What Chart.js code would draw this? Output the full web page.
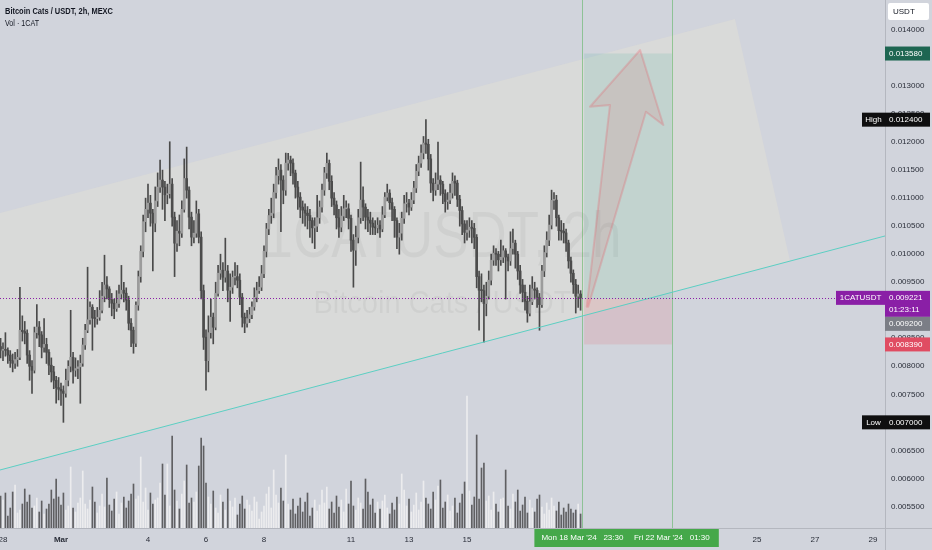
<!DOCTYPE html>
<html>
<head>
<meta charset="utf-8">
<script src="https://cdn.jsdelivr.net/npm/chart.js@4.4.1/dist/chart.umd.min.js"></script>
<style>
  html, body { margin: 0; padding: 0; background: #d1d4dc; }
  #wrap { width: 932px; height: 550px; }
</style>
</head>
<body>
<div id="wrap"><canvas id="chart" width="932" height="550"></canvas></div>
<script>
// 2h candles of 1CATUSDT, prices in millionths of USDT (9221 = 0.009221)
const opens = [
  8350, 8286, 8290, 8286, 8200, 8100, 8054, 8120, 8161, 8643,
  8620, 8590, 8200, 8000, 7929, 8600, 8700, 8560, 8340, 8390,
  8250, 8020, 7900, 7750, 7620, 7590, 7560, 7518, 7750, 8000,
  8161, 7929, 7960, 7990, 8054, 8380, 8643, 8830, 9054, 8860,
  8850, 8875, 9000, 9250, 9450, 9380, 9190, 9125, 9030, 9120,
  9290, 9357, 9304, 9180, 8768, 8643, 8411, 9090, 9600, 10050,
  10580, 10800, 10911, 10732, 10554, 10950, 11197, 11322, 11197, 11060,
  11080, 11250, 10661, 10197, 10410, 10375, 10800, 11350, 11143, 10661,
  10304, 10375, 10720, 10304, 9350, 8518, 8100, 8600, 8875, 8697,
  9300, 9661, 9714, 9589, 9700, 9357, 9411, 9589, 9600, 9536,
  9232, 8875, 8768, 8850, 8920, 9060, 9230, 9350, 9411, 9650,
  10050, 10450, 10690, 10732, 11100, 11400, 11500, 11322, 11143, 11625,
  11679, 11625, 11447, 11197, 11018, 10840, 10786, 10732, 10690, 10600,
  10470, 10500, 10650, 10840, 11143, 11450, 11620, 11300, 11000, 10880,
  10650, 10482, 10680, 10810, 10810, 10640, 10250, 10072, 10300, 10650,
  10965, 10840, 10661, 10607, 10554, 10482, 10470, 10518, 10450, 10700,
  11018, 11090, 10920, 10800, 10600, 10304, 10375, 10640, 10900, 10911,
  10840, 10965, 11180, 11480, 11625, 11804, 11982, 11960, 11700, 11268,
  11143, 11250, 11322, 11250, 11080, 10940, 10965, 11090, 11300, 11268,
  10980, 10780, 10540, 10390, 10429, 10482, 10460, 10300, 9600, 9357,
  9350, 9120, 9250, 9536, 9893, 10018, 10000, 9900, 9946, 10060,
  9950, 9880, 10100, 10197, 10000, 9700, 9450, 9320, 9160, 8947,
  9150, 9380, 9357, 9232, 9100, 9700, 10030, 10250, 10520, 10960,
  10965, 10650, 10420, 10410, 10380, 10200, 9880, 9660, 9460, 9250, 9290
];
const highs = [
  8500, 8420, 8600, 8330, 8280, 8220, 8250, 8300, 9411, 8900,
  8800, 8650, 8280, 8100, 8700, 9100, 8800, 8620, 8850, 8500,
  8300, 8150, 8000, 7820, 7800, 7700, 7650, 7950, 8100, 8999,
  8250, 8150, 8100, 8200, 8500, 8750, 9768, 9150, 9100, 9000,
  9050, 9350, 9500, 9982, 9600, 9420, 9300, 9200, 9350, 9450,
  9800, 9500, 9400, 9250, 8850, 8700, 9150, 9700, 10150, 10700,
  11000, 11250, 11050, 10800, 11200, 11450, 11679, 11500, 11300, 11250,
  12006, 11350, 10750, 10600, 10700, 10950, 11700, 11911, 11200, 10750,
  10600, 10950, 10800, 10400, 9450, 8650, 8900, 9200, 8950, 9500,
  9800, 10000, 9850, 10286, 9800, 9650, 9700, 9850, 9800, 9650,
  9300, 8950, 9000, 9050, 9150, 9400, 9500, 9600, 9800, 10150,
  10550, 10800, 11000, 11250, 11550, 11700, 11600, 11400, 11804, 11800,
  11750, 11700, 11500, 11300, 11100, 10950, 10900, 10850, 10800, 10650,
  10650, 11050, 10950, 11250, 11550, 11804, 11680, 11400, 11100, 10950,
  10800, 10850, 11050, 10950, 10900, 10700, 10350, 10500, 10800, 11643,
  11200, 10900, 10800, 10750, 10650, 10600, 10650, 10600, 10850, 11100,
  11250, 11150, 11000, 10850, 10650, 10550, 10750, 11050, 11100, 10980,
  11100, 11300, 11600, 11750, 11950, 12100, 12400, 12050, 11780, 11350,
  11450, 12000, 11400, 11300, 11150, 11100, 11250, 11450, 11400, 11320,
  11050, 10850, 10600, 10600, 10650, 10600, 10550, 10350, 9700, 9650,
  9450, 9500, 9700, 10000, 10150, 10100, 10050, 10250, 10150, 10100,
  10000, 10400, 10450, 10250, 10050, 9800, 9550, 9450, 9250, 9450,
  9600, 9500, 9400, 9300, 9800, 10150, 10400, 10700, 11143, 11100,
  11050, 10700, 10600, 10550, 10450, 10250, 9950, 9720, 9550, 9450, 9350
];
const lows = [
  8150, 8100, 8180, 8050, 7980, 7900, 7960, 8000, 8120, 8450,
  8400, 8050, 7750, 7518, 7880, 8500, 8350, 8150, 8250, 8050,
  7850, 7720, 7600, 7340, 7400, 7300, 7000, 7450, 7650, 7900,
  7700, 7820, 7780, 7340, 8000, 8300, 8600, 8750, 8286, 8700,
  8750, 8820, 8950, 9150, 9200, 9050, 8900, 8850, 8980, 9050,
  9200, 9150, 9000, 8650, 8350, 8233, 8350, 9000, 9500, 9950,
  10400, 10650, 10500, 9700, 10400, 10850, 11100, 10800, 10600, 10900,
  11000, 10500, 9600, 10050, 10150, 10300, 10750, 11000, 10450, 10150,
  10200, 10300, 10200, 9200, 8300, 7572, 7900, 8500, 8400, 8650,
  9250, 9550, 9350, 9500, 9150, 8800, 9300, 9450, 9400, 9100,
  8700, 8600, 8700, 8780, 8850, 9000, 9150, 9300, 9350, 9580,
  9950, 10350, 10550, 10650, 11000, 11250, 10400, 10900, 11050, 11500,
  11400, 11250, 11000, 10800, 10650, 10550, 10500, 10450, 10300, 10200,
  10100, 10400, 10550, 10750, 11050, 11350, 11150, 10850, 10700, 10450,
  10300, 10400, 10600, 10650, 10450, 10050, 9411, 9800, 10200, 10550,
  10600, 10450, 10400, 10350, 10350, 10350, 10380, 10300, 10400, 10650,
  10950, 10800, 10600, 10300, 10100, 10000, 10250, 10550, 10750, 10700,
  10780, 10900, 11100, 11400, 11550, 11700, 11800, 11500, 11100, 10950,
  11050, 11150, 11050, 10900, 10750, 10800, 10900, 11000, 11050, 10850,
  10500, 10350, 10200, 10250, 10300, 10200, 10100, 9400, 8643, 9150,
  8429, 8900, 9200, 9450, 9800, 9800, 9700, 9800, 9850, 9200,
  9700, 9800, 10000, 9750, 9550, 9300, 9150, 9000, 8786, 8900,
  9100, 9200, 9050, 8643, 9050, 9600, 9950, 10150, 10450, 10800,
  10500, 10250, 10250, 10200, 10050, 9750, 9500, 9300, 8950, 9050, 9000
];
const closes = [
  8286, 8290, 8286, 8200, 8100, 8054, 8120, 8161, 8643, 8620,
  8590, 8200, 8000, 7929, 8600, 8700, 8560, 8340, 8390, 8250,
  8020, 7900, 7750, 7620, 7590, 7560, 7518, 7750, 8000, 8161,
  7929, 7960, 7990, 8054, 8380, 8643, 8830, 9054, 8860, 8850,
  8875, 9000, 9250, 9450, 9380, 9190, 9125, 9030, 9120, 9290,
  9357, 9304, 9180, 8768, 8643, 8411, 9090, 9600, 10050, 10580,
  10800, 10911, 10732, 10554, 10950, 11197, 11322, 11197, 11060, 11080,
  11250, 10661, 10197, 10410, 10375, 10800, 11350, 11143, 10661, 10304,
  10375, 10720, 10304, 9350, 8518, 8100, 8600, 8875, 8697, 9300,
  9661, 9714, 9589, 9700, 9357, 9411, 9589, 9600, 9536, 9232,
  8875, 8768, 8850, 8920, 9060, 9230, 9350, 9411, 9650, 10050,
  10450, 10690, 10732, 11100, 11400, 11500, 11322, 11143, 11625, 11679,
  11625, 11447, 11197, 11018, 10840, 10786, 10732, 10690, 10600, 10470,
  10500, 10650, 10840, 11143, 11450, 11620, 11300, 11000, 10880, 10650,
  10482, 10680, 10810, 10810, 10640, 10250, 10072, 10300, 10650, 10965,
  10840, 10661, 10607, 10554, 10482, 10470, 10518, 10450, 10700, 11018,
  11090, 10920, 10800, 10600, 10304, 10375, 10640, 10900, 10911, 10840,
  10965, 11180, 11480, 11625, 11804, 11982, 11960, 11700, 11268, 11143,
  11250, 11322, 11250, 11080, 10940, 10965, 11090, 11300, 11268, 10980,
  10780, 10540, 10390, 10429, 10482, 10460, 10300, 9600, 9357, 9350,
  9120, 9250, 9536, 9893, 10018, 10000, 9900, 9946, 10060, 9950,
  9880, 10100, 10197, 10000, 9700, 9450, 9320, 9160, 8947, 9150,
  9380, 9357, 9232, 9100, 9700, 10030, 10250, 10520, 10960, 10965,
  10650, 10420, 10410, 10380, 10200, 9880, 9660, 9460, 9250, 9290, 9221
];
const volumes = [
  3.2, 2.8, 3.5, 1.2, 2.0, 3.6, 4.3, 1.5, 1.8, 2.4,
  3.9, 2.6, 3.3, 2.0, 2.2, 3.0, 1.6, 2.7, 1.4, 1.9,
  2.4, 3.8, 2.9, 4.9, 3.1, 2.3, 3.5, 1.8, 2.2, 6.1,
  2.0, 1.6, 2.5, 3.0, 5.7, 2.4, 1.9, 2.8, 4.1, 2.6,
  1.5, 2.2, 3.4, 2.1, 5.0, 2.3, 1.7, 2.9, 3.6, 1.4,
  2.5, 3.1, 2.0, 2.7, 3.4, 4.4, 2.9, 3.2, 7.1, 2.6,
  4.0, 1.8, 3.5, 2.4, 2.8, 3.0, 4.5, 6.4, 3.3, 6.4,
  2.2, 9.2, 3.8, 2.7, 1.9, 3.4, 4.7, 6.3, 2.5, 3.0,
  2.6, 3.6, 6.2, 9.0, 8.2, 4.5, 3.1, 2.4, 3.7, 2.0,
  1.5, 3.3, 2.6, 1.8, 3.9, 2.7, 2.1, 3.0, 1.3, 2.4,
  3.2, 1.9, 2.8, 2.3, 1.7, 3.1, 2.6, 0.9, 1.6, 2.2,
  3.4, 4.1, 2.0, 5.8, 3.3, 2.5, 4.0, 2.7, 7.3, 2.4,
  1.8, 2.9, 1.4, 2.2, 3.0, 1.6, 2.6, 3.5, 1.2, 2.0,
  2.8, 1.7, 2.3, 3.8, 2.5, 4.1, 1.9, 2.6, 1.5, 3.2,
  2.1, 2.8, 1.6, 3.9, 2.4, 4.7, 2.2, 1.8, 3.0, 2.5,
  1.9, 4.9, 3.6, 2.3, 2.9, 1.5, 2.6, 1.9, 2.7, 3.3,
  2.0, 1.4, 2.5, 1.8, 3.1, 2.4, 5.4, 3.8, 2.2, 2.9,
  1.6, 2.3, 3.5, 1.8, 2.6, 4.7, 3.0, 2.4, 1.9, 3.6,
  2.8, 4.2, 4.8, 2.0, 2.6, 3.3, 1.7, 2.2, 3.0, 1.5,
  2.5, 3.4, 4.6, 13.2, 3.7, 2.3, 3.1, 9.3, 2.9, 6.0,
  6.5, 2.7, 3.2, 1.8, 3.6, 2.4, 1.6, 2.9, 3.0, 5.8,
  2.2, 1.9, 3.4, 2.6, 3.8, 1.7, 2.3, 3.1, 1.5, 2.8,
  2.0, 1.6, 2.9, 3.3, 2.1, 1.4, 2.5, 1.8, 3.0, 2.2,
  1.7, 2.6, 1.3, 2.0, 1.6, 2.4, 1.9, 1.5, 1.8, 2.4, 1.4
];

// time axis: days counted from 29 Feb 00:00 (so 1 = 1 Mar)
const firstCandle = -1 - 1 / 12;   // 27 Feb 22:00
const candleStep = 2 / 24;          // 2h
const viewStart = -1.1034;
const viewEnd = 29.4138;

const dateTicks = [-1, 1, 4, 6, 8, 11, 13, 15, 25, 27, 29];
const dateLabels = ['28', 'Mar', '4', '6', '8', '11', '13', '15', '25', '27', '29'];
const priceTicks = [14000, 13500, 13000, 12500, 12000, 11500, 11000, 10500, 10000, 9500, 9000, 8500, 8000, 7500, 7000, 6500, 6000, 5500];

// drawings, in [day, price] coordinates
const channel = [[-1.103, 10735], [24.24, 14196], [26.14, 9879], [-1.103, 6150]];
const trendLine = [[-1.103, 6150], [29.414, 10325]];
const arrow = [[19.13, 9064], [19.93, 12662], [19.24, 12631], [20.97, 13643], [21.77, 12305], [21.17, 12542], [19.18, 9064]];
const rangeDates = [18.979, 22.0625];
const rangeText = ["Mon 18 Mar '24   23:30", "Fri 22 Mar '24   01:30"];
const position = { start: 19.04, end: 22.0625, entry: 9200, target: 13580, stop: 8390 };
const lastPrice = 9221;
const dayHigh = 12400;
const dayLow = 7000;

const FONT = '"Liberation Sans", Arial, sans-serif';

const times = closes.map((c, i) => firstCandle + i * candleStep);
const isUp = closes.map((c, i) => c >= opens[i]);

function fitText(ctx, text, x, y, font, width, align) {
  ctx.font = font;
  const s = width / ctx.measureText(text).width;
  ctx.save();
  ctx.translate(x, y);
  ctx.scale(s, 1);
  ctx.textAlign = align;
  ctx.fillText(text, 0, 0);
  ctx.restore();
}

function path(ctx, pts, px, py) {
  ctx.beginPath();
  pts.forEach((p, i) => i ? ctx.lineTo(px(p[0]), py(p[1])) : ctx.moveTo(px(p[0]), py(p[1])));
}

const tvPlugin = {
  id: 'tv',
  beforeDraw(chart) {
    const ctx = chart.ctx;
    ctx.save();
    ctx.fillStyle = '#d1d4dc';
    ctx.fillRect(0, 0, chart.width, chart.height);
    ctx.restore();
  },
  beforeDatasetsDraw(chart) {
    const { ctx, chartArea: a, scales: { x, y } } = chart;
    const px = v => x.getPixelForValue(v), py = v => y.getPixelForValue(v);
    ctx.save();
    ctx.beginPath(); ctx.rect(a.left, a.top, a.width, a.height); ctx.clip();

    path(ctx, channel, px, py);
    ctx.closePath();
    ctx.fillStyle = 'rgba(226,223,214,0.5)';
    ctx.fill();

    // watermark
    ctx.fillStyle = 'rgba(0,0,0,0.045)';
    ctx.textBaseline = 'alphabetic';
    const cx = (a.left + a.right) / 2;
    fitText(ctx, '1CATUSDT, 2h', cx, 257, '65px ' + FONT, 358, 'center');
    fitText(ctx, 'Bitcoin Cats / USDT', cx, 313, '32px ' + FONT, 258, 'center');

    // long position
    const x0 = px(position.start), x1 = px(position.end);
    ctx.fillStyle = 'rgba(8,153,129,0.11)';
    ctx.fillRect(x0, py(position.target), x1 - x0, py(position.entry) - py(position.target));
    ctx.fillStyle = 'rgba(242,54,69,0.12)';
    ctx.fillRect(x0, py(position.entry), x1 - x0, py(position.stop) - py(position.entry));

    ctx.strokeStyle = 'rgba(76,175,80,0.5)';
    ctx.lineWidth = 1;
    rangeDates.forEach(d => {
      const xx = Math.round(px(d)) + 0.5;
      ctx.beginPath(); ctx.moveTo(xx, a.top); ctx.lineTo(xx, a.bottom); ctx.stroke();
    });
    ctx.restore();
  },
  afterDatasetsDraw(chart) {
    const { ctx, chartArea: a, scales: { x, y } } = chart;
    const px = v => x.getPixelForValue(v), py = v => y.getPixelForValue(v);
    ctx.save();
    ctx.beginPath(); ctx.rect(a.left, a.top, a.width, a.height); ctx.clip();

    path(ctx, trendLine, px, py);
    ctx.strokeStyle = '#5ccfc3';
    ctx.lineWidth = 1;
    ctx.stroke();

    path(ctx, arrow, px, py);
    ctx.closePath();
    ctx.fillStyle = 'rgba(242,54,69,0.1)';
    ctx.fill();
    ctx.strokeStyle = 'rgba(242,54,69,0.2)';
    ctx.lineWidth = 2;
    ctx.lineJoin = 'round';
    ctx.stroke();

    const ly = Math.round(py(lastPrice)) + 0.5;
    ctx.setLineDash([1, 2]);
    ctx.strokeStyle = '#8a1fa6';
    ctx.lineWidth = 1;
    ctx.beginPath(); ctx.moveTo(a.left, ly); ctx.lineTo(a.right, ly); ctx.stroke();
    ctx.restore();
  },
  afterDraw(chart) {
    const { ctx, chartArea: a, scales: { x, y } } = chart;
    const px = v => x.getPixelForValue(v), py = v => y.getPixelForValue(v);
    ctx.save();

    // pane borders
    ctx.strokeStyle = '#b4b7bf';
    ctx.lineWidth = 1;
    ctx.beginPath();
    ctx.moveTo(a.right + 0.5, 0); ctx.lineTo(a.right + 0.5, chart.height);
    ctx.moveTo(0, a.bottom + 0.5); ctx.lineTo(chart.width, a.bottom + 0.5);
    ctx.stroke();

    // price scale
    ctx.textBaseline = 'middle';
    ctx.textAlign = 'left';
    ctx.font = '8px ' + FONT;
    ctx.fillStyle = '#2a2e39';
    priceTicks.forEach(p => ctx.fillText((p / 1e6).toFixed(6), a.right + 6, py(p)));

    // time scale
    ctx.textAlign = 'center';
    dateTicks.forEach((d, i) => {
      ctx.font = (dateLabels[i] === 'Mar' ? 'bold ' : '') + '8px ' + FONT;
      ctx.fillText(dateLabels[i], px(d), a.bottom + 12);
    });

    // date range badge
    const bx0 = px(rangeDates[0]) - 48, bx1 = px(rangeDates[1]) + 47;
    ctx.fillStyle = '#45a84a';
    ctx.fillRect(bx0, a.bottom + 1, bx1 - bx0, 18);
    ctx.fillStyle = '#ffffff';
    ctx.font = '8px ' + FONT;
    rangeDates.forEach((d, i) => ctx.fillText(rangeText[i], px(d), a.bottom + 10));

    // price badges
    const W = chart.width - a.right - 2;
    const badge = (yc, bg, text, h) => {
      ctx.fillStyle = bg;
      ctx.fillRect(a.right, yc - 7, W, h || 14);
      ctx.fillStyle = '#ffffff';
      ctx.textAlign = 'left';
      ctx.fillText(text, a.right + 4, yc);
    };
    const tag = (yc, bg, text, w) => {
      ctx.fillStyle = bg;
      ctx.fillRect(a.right - w, yc - 7, w, 14);
      ctx.fillStyle = '#ffffff';
      ctx.textAlign = 'center';
      ctx.fillText(text, a.right - w / 2, yc);
    };
    ctx.font = '8px ' + FONT;
    badge(py(position.target), '#1e6652', (position.target / 1e6).toFixed(6));
    badge(py(dayHigh), '#0f0f10', (dayHigh / 1e6).toFixed(6));
    tag(py(dayHigh), '#0f0f10', 'High', 23);
    const yl = py(lastPrice);
    badge(yl, '#8a1fa6', (lastPrice / 1e6).toFixed(6), 26);
    ctx.fillText('01:23:11', a.right + 4, yl + 12);
    tag(yl, '#8a1fa6', '1CATUSDT', 49);
    badge(yl + 26, '#7b7e86', (position.entry / 1e6).toFixed(6));
    badge(py(position.stop), '#e04c62', (position.stop / 1e6).toFixed(6));
    badge(py(dayLow), '#0f0f10', (dayLow / 1e6).toFixed(6));
    tag(py(dayLow), '#0f0f10', 'Low', 23);

    // currency box
    ctx.fillStyle = '#ffffff';
    ctx.beginPath();
    ctx.roundRect(a.right + 3, 3, 41, 17, 2);
    ctx.fill();
    ctx.fillStyle = '#131722';
    ctx.textAlign = 'left';
    ctx.fillText('USDT', a.right + 8, 11.5);

    // legend
    ctx.fillStyle = '#131722';
    ctx.textBaseline = 'alphabetic';
    fitText(ctx, 'Bitcoin Cats / USDT, 2h, MEXC', 5, 13.5, 'bold 8.5px ' + FONT, 108, 'left');
    fitText(ctx, 'Vol \u00b7 1CAT', 5, 26, '8.5px ' + FONT, 34, 'left');
    ctx.restore();
  }
};

const chart = new Chart(document.getElementById('chart'), {
  type: 'bar',
  data: {
    datasets: [
      {
        label: 'Vol',
        yAxisID: 'yv',
        data: volumes.map((v, i) => ({ x: times[i], y: v })),
        backgroundColor: isUp.map(u => u ? '#ececee' : '#5f5f62'),
        barThickness: 1,
        grouped: false,
        order: 3
      },
      {
        label: 'wick',
        yAxisID: 'y',
        data: times.map((t, i) => ({ x: t, y: [lows[i], highs[i]] })),
        backgroundColor: '#4a4a4a',
        barThickness: 1,
        grouped: false,
        order: 2
      },
      {
        label: '1CATUSDT',
        yAxisID: 'y',
        data: times.map((t, i) => ({ x: t, y: [opens[i], closes[i]] })),
        backgroundColor: isUp.map(u => u ? '#9c9c9c' : '#4c4c4c'),
        barThickness: 2,
        minBarLength: 1,
        grouped: false,
        order: 1
      }
    ]
  },
  options: {
    responsive: false,
    animation: false,
    devicePixelRatio: 1,
    layout: { padding: { left: 0, top: 0, right: 47, bottom: 22 } },
    plugins: {
      legend: { display: false },
      tooltip: { enabled: false }
    },
    scales: {
      x: { type: 'linear', min: viewStart, max: viewEnd, offset: false, display: false },
      y: { type: 'linear', min: 5115, max: 14535, display: false },
      yv: { type: 'linear', min: 0, max: 52.8, display: false }
    }
  },
  plugins: [tvPlugin]
});
</script>
</body>
</html>
